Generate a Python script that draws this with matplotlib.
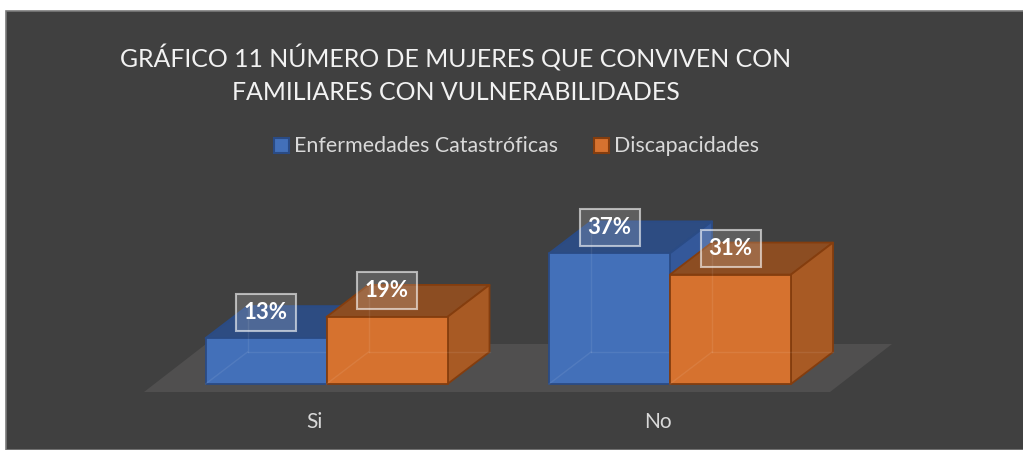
import matplotlib
matplotlib.use("Agg")
import matplotlib.pyplot as plt
from matplotlib.patches import Polygon, Rectangle

plt.rcParams['font.family'] = ['Lato', 'DejaVu Sans']

# ---- data ----
categories = ["Si", "No"]
series_names = ["Enfermedades Catastróficas", "Discapacidades"]
enfermedades = [13, 37]
discapacidades = [19, 31]
title_lines = ["GRÁFICO 11 NÚMERO DE MUJERES QUE CONVIVEN CON",
               "FAMILIARES CON VULNERABILIDADES"]

# ---- style ----
W, H = 1023, 450
BG = "#404040"
TXT = "#d9d9d9"
blue = dict(front="#4370b9", top="#2d4c82", side="#34589a", edge="#2a4b85")
orange = dict(front="#d6722f", top="#8c4d22", side="#a85a24", edge="#843d0e")
styles = [blue, orange]
series = [enfermedades, discapacidades]

fig = plt.figure(figsize=(W / 100, H / 100), dpi=100)
fig.patch.set_facecolor("white")
# dark chart area with thin border
fig.patches.append(Rectangle((6 / W, 0), 1, 1 - 11 / H, transform=fig.transFigure,
                             facecolor=BG, edgecolor="#7a7a7a", lw=1.2, zorder=-10))

# axes: category positions on x (0, 1), percent on y
px_per_unit = 343.5
x0_px = 326.5
px_per_pct = 3.53
base_px = 384  # from top
ax = fig.add_axes([0, 0, 1, 1])
ax.set_zorder(1)
ax.set_xlim(-x0_px / px_per_unit, (W - x0_px) / px_per_unit)
ax.set_ylim(-(H - base_px) / px_per_pct, base_px / px_per_pct)
ax.axis("off")
ax.patch.set_alpha(0)

bw = 121 / px_per_unit          # bar width in x units
ddx = 42 / px_per_unit          # depth offset x
ddy = 32 / px_per_pct           # depth offset y

# floor
f_front = -8 / px_per_pct
f_dx, f_dy = 62 / px_per_unit, 48 / px_per_pct
fl, fr = (144 - x0_px) / px_per_unit, (830 - x0_px) / px_per_unit
ax.add_patch(Polygon([(fl, f_front), (fr, f_front), (fr + f_dx, f_front + f_dy),
                      (fl + f_dx, f_front + f_dy)], closed=True,
                     facecolor="#504f4f", edgecolor="none", zorder=1))

def box(x, h, st, z):
    x1, x2 = x, x + bw
    top = [(x1, h), (x2, h), (x2 + ddx, h + ddy), (x1 + ddx, h + ddy)]
    side = [(x2, 0), (x2 + ddx, ddy), (x2 + ddx, h + ddy), (x2, h)]
    front = [(x1, 0), (x2, 0), (x2, h), (x1, h)]
    for pts, c in ((top, st["top"]), (side, st["side"]), (front, st["front"])):
        ax.add_patch(Polygon(pts, closed=True, facecolor=c, edgecolor=st["edge"],
                             lw=1.3, joinstyle="round", zorder=z))
    # faint hidden edges (semi-transparent look)
    bx, by = x1 + ddx, ddy
    ax.plot([x1, bx], [0, by], color="white", alpha=0.08, lw=1, zorder=z + 0.1)
    ax.plot([bx, x2 + ddx], [by, by], color="white", alpha=0.08, lw=1, zorder=z + 0.1)
    ax.plot([bx, bx], [by, h + ddy], color="white", alpha=0.08, lw=1, zorder=z + 0.1)

for ci in range(len(categories)):
    for si, vals in enumerate(series):
        x = ci - bw + si * bw
        box(x, vals[ci], styles[si], 2 + si)

for ci in range(len(categories)):
    for si, vals in enumerate(series):
        xc = ci - bw / 2 + si * bw
        ax.text(xc, vals[ci] + 26 / px_per_pct, f"{vals[ci]}%", ha="center", va="center",
                color="white", fontsize=16, fontweight="bold", zorder=10,
                bbox=dict(boxstyle="square,pad=0.36", facecolor=(1, 1, 1, 0.16),
                          edgecolor=(1, 1, 1, 0.6), lw=1.5))
    ax.text(ci - 12 / px_per_unit, -38 / px_per_pct, categories[ci], ha="center",
            va="center", color=TXT, fontsize=15)

# title
fig.text(456 / W, 1 - 58 / H, title_lines[0], ha="center", va="center", color="#f2f2f2",
         fontsize=17.9)
fig.text(456 / W, 1 - 93 / H, title_lines[1], ha="center", va="center", color="#f2f2f2",
         fontsize=17.9)

# legend
leg_y = 1 - 145 / H
items = [(274, 294, series_names[0], blue), (594, 614, series_names[1], orange)]
for sx, tx, name, st in items:
    fig.patches.append(Rectangle((sx / W, leg_y - 8 / H), 15 / W, 15 / H,
                                 transform=fig.transFigure, facecolor=st["front"],
                                 edgecolor=st["edge"], lw=1.5, zorder=5))
    fig.text(tx / W, leg_y - 1.5 / H, name, ha="left", va="center", color=TXT, fontsize=15.4)

fig.savefig("out.png", dpi=100, facecolor=fig.get_facecolor())
